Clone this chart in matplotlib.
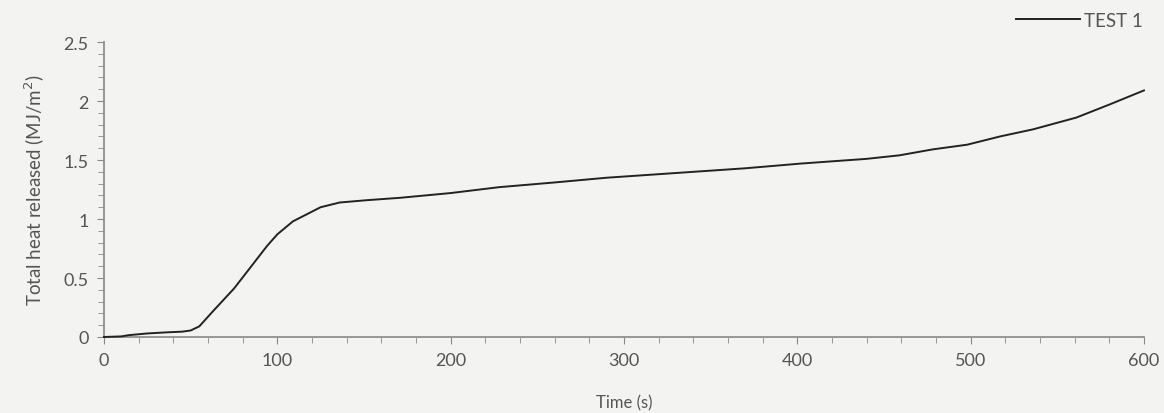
import matplotlib
matplotlib.use('Agg')
import matplotlib.pyplot as plt
from matplotlib.ticker import MultipleLocator

# values
time_s = [0, 10, 14, 25, 37, 45, 50, 55, 63, 75, 84, 94, 100, 109, 117, 125,
          136, 152, 171, 200, 228, 260, 290, 330, 370, 402, 421, 440, 459, 478,
          498, 517, 536, 561, 580, 600]
thr = [0.0, 0.005, 0.015, 0.03, 0.04, 0.045, 0.055, 0.09, 0.22, 0.41, 0.58,
       0.77, 0.87, 0.98, 1.04, 1.10, 1.14, 1.16, 1.18, 1.22, 1.27, 1.31, 1.35,
       1.39, 1.43, 1.47, 1.49, 1.51, 1.54, 1.59, 1.63, 1.70, 1.76, 1.86, 1.97, 2.09]

plt.rcParams['font.family'] = ['Lato', 'DejaVu Sans']
grey = '#555555'

fig = plt.figure(figsize=(11.64, 4.14), dpi=100)
fig.patch.set_facecolor('#f3f3f1')
ax = fig.add_axes([0.0893, 0.1836, 0.8935, 0.7124])
ax.set_facecolor('#f3f3f1')

ax.plot(time_s, thr, color='#222222', lw=1.4, label='TEST 1', zorder=3,
        clip_on=False)

ax.set_xlim(0, 600)
ax.set_ylim(0, 2.5)
ax.xaxis.set_major_locator(MultipleLocator(100))
ax.xaxis.set_minor_locator(MultipleLocator(20))
ax.yaxis.set_minor_locator(MultipleLocator(0.1))
ax.set_yticks([0, 0.5, 1, 1.5, 2, 2.5])
ax.set_yticklabels(['0', '0.5', '1', '1.5', '2', '2.5'])

for s in ['top', 'right']:
    ax.spines[s].set_visible(False)
for s in ['left', 'bottom']:
    ax.spines[s].set_color('#888888')
    ax.spines[s].set_linewidth(1.2)

ax.tick_params(which='major', direction='out', length=5, color='#888888',
               labelsize=13, labelcolor=grey, pad=6)
ax.tick_params(which='minor', direction='out', length=4, color='#888888')

ax.set_xlabel('Time (s)', fontsize=12, color=grey, labelpad=19)
ax.set_ylabel('Total heat released (MJ/m$^2$)', fontsize=13.5, color=grey,
              labelpad=12)

leg = ax.legend(loc='upper right', bbox_to_anchor=(1.015, 1.16), frameon=False,
                fontsize=13.5, handlelength=3.4, handletextpad=0.2)
for t in leg.get_texts():
    t.set_color(grey)

fig.savefig('out.png', dpi=100, facecolor=fig.get_facecolor())
